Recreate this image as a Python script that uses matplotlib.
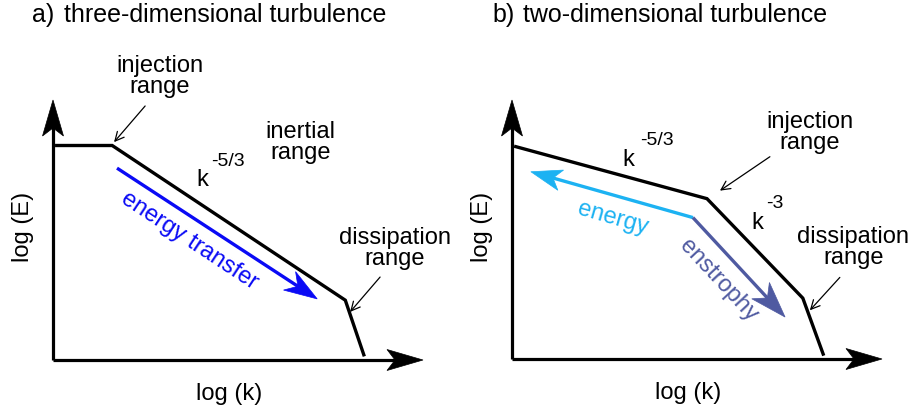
import matplotlib
matplotlib.use("Agg")
import matplotlib.pyplot as plt
from matplotlib.patches import Polygon
import numpy as np

plt.rcParams['font.family'] = ['Liberation Sans', 'DejaVu Sans']

# Schematic spectra, in (log k, log E) units on a 0..10 frame
logk_3d = [0.1, 1.6, 7.9, 8.4]
logE_3d = [8.25, 8.25, 2.3, 0.2]

logk_2d = [0.1, 5.27, 7.86, 8.41]
logE_2d = [8.2, 6.19, 2.35, 0.19]

# Cascade arrows: (start, tip)
transfer_3d = [(1.73, 7.38), (7.14, 2.35)]
energy_2d = [(4.89, 5.46), (0.51, 7.23)]
enstrophy_2d = [(4.89, 5.46), (7.38, 1.62)]

BLUE = '#0a0af5'
LIGHT_BLUE = '#1cb2f2'
PURPLE = '#4f5aa1'
FS = 17
TITLE_FS = 18


def head_arrow(ax, start, tip, color, lw, length, half_w, notch):
    """Straight shaft with a filled, notched arrowhead (sizes in pixels)."""
    p0 = ax.transData.transform(start)
    p1 = ax.transData.transform(tip)
    d = (p1 - p0) / np.hypot(*(p1 - p0))
    n = np.array([-d[1], d[0]])
    base = p1 - d * length
    back = base + d * notch
    pts = [p1, base + n * half_w, back, base - n * half_w]
    shaft_end = ax.transData.inverted().transform(back + d * 1)
    ax.plot([start[0], shaft_end[0]], [start[1], shaft_end[1]], color=color,
            lw=lw, solid_capstyle='butt', clip_on=False)
    ax.add_patch(Polygon(pts, closed=True, facecolor=color, edgecolor=color,
                         lw=0.5, transform=None, clip_on=False))


def pointer(ax, start, tip):
    ax.annotate('', xy=tip, xytext=start,
                arrowprops=dict(arrowstyle='->', lw=0.9, color='black',
                                mutation_scale=16, shrinkA=0, shrinkB=0))


def frame(ax):
    ax.set_xlim(0, 10)
    ax.set_ylim(0, 10)
    ax.axis('off')
    head_arrow(ax, (0, 0), (10, 0), 'black', 2.3, 36, 10.5, 8)
    head_arrow(ax, (0, 0), (0, 10), 'black', 2.3, 36, 10.5, 8)
    ax.text(-0.8, 5.1, 'log (E)', rotation=90, ha='center', va='center', fontsize=FS)
    ax.text(4.77, -1.3, 'log (k)', ha='center', va='center', fontsize=FS)


fig = plt.figure(figsize=(9.15, 4.12), dpi=100)
ax1 = fig.add_axes([53 / 915, 52 / 412, 370 / 915, 260 / 412])
ax2 = fig.add_axes([512 / 915, 53 / 412, 370 / 915, 259 / 412])

# a) three-dimensional turbulence
frame(ax1)
ax1.plot(logk_3d, logE_3d, color='black', lw=2.4, solid_joinstyle='miter')
head_arrow(ax1, transfer_3d[0], transfer_3d[1], BLUE, 2.4, 33, 11, 10)
ax1.text(3.68, 4.6, 'energy transfer', rotation=-33.5, color=BLUE, fontsize=FS,
         ha='center', va='center', rotation_mode='anchor')
ax1.text(4.03, 6.92, 'k', fontsize=FS, ha='center', va='center')
ax1.text(4.73, 7.62, '-5/3', fontsize=14, ha='center', va='center')
ax1.text(6.68, 8.35, 'inertial\nrange', fontsize=FS, ha='center', va='center',
         linespacing=0.95)
ax1.text(2.89, 10.9, 'injection\nrange', fontsize=FS, ha='center', va='center',
         linespacing=0.95)
pointer(ax1, (2.49, 9.77), (1.65, 8.38))
ax1.text(9.24, 4.3, 'dissipation\nrange', fontsize=FS, ha='center', va='center',
         linespacing=0.95)
pointer(ax1, (8.84, 3.19), (8.03, 1.85))
ax1.text(-0.56, 13.27, 'a)', fontsize=TITLE_FS, ha='left', va='center')
ax1.text(0.3, 13.27, 'three-dimensional turbulence', fontsize=TITLE_FS,
         ha='left', va='center')

# b) two-dimensional turbulence
frame(ax2)
ax2.plot(logk_2d, logE_2d, color='black', lw=2.4, solid_joinstyle='miter')
head_arrow(ax2, energy_2d[0], energy_2d[1], LIGHT_BLUE, 2.4, 31, 10.5, 8)
head_arrow(ax2, enstrophy_2d[0], enstrophy_2d[1], PURPLE, 2.4, 36, 12, 10)
ax2.text(2.73, 5.42, 'energy', rotation=-16, color=LIGHT_BLUE, fontsize=FS,
         ha='center', va='center', rotation_mode='anchor')
ax2.text(5.57, 3.04, 'enstrophy', rotation=-47, color=PURPLE, fontsize=FS,
         ha='center', va='center', rotation_mode='anchor')
ax2.text(3.14, 7.69, 'k', fontsize=FS, ha='center', va='center')
ax2.text(3.92, 8.42, '-5/3', fontsize=14, ha='center', va='center')
ax2.text(6.62, 5.27, 'k', fontsize=FS, ha='center', va='center')
ax2.text(7.11, 6.0, '-3', fontsize=14, ha='center', va='center')
ax2.text(8.05, 8.75, 'injection\nrange', fontsize=FS, ha='center', va='center',
         linespacing=0.95)
pointer(ax2, (6.97, 7.81), (5.62, 6.5))
ax2.text(9.22, 4.3, 'dissipation\nrange', fontsize=FS, ha='center', va='center',
         linespacing=0.95)
pointer(ax2, (8.86, 3.15), (8.05, 1.88))
ax2.text(-0.53, 13.27, 'b)', fontsize=TITLE_FS, ha='left', va='center')
ax2.text(0.3, 13.27, 'two-dimensional turbulence', fontsize=TITLE_FS,
         ha='left', va='center')

fig.savefig('out.png', dpi=100)
